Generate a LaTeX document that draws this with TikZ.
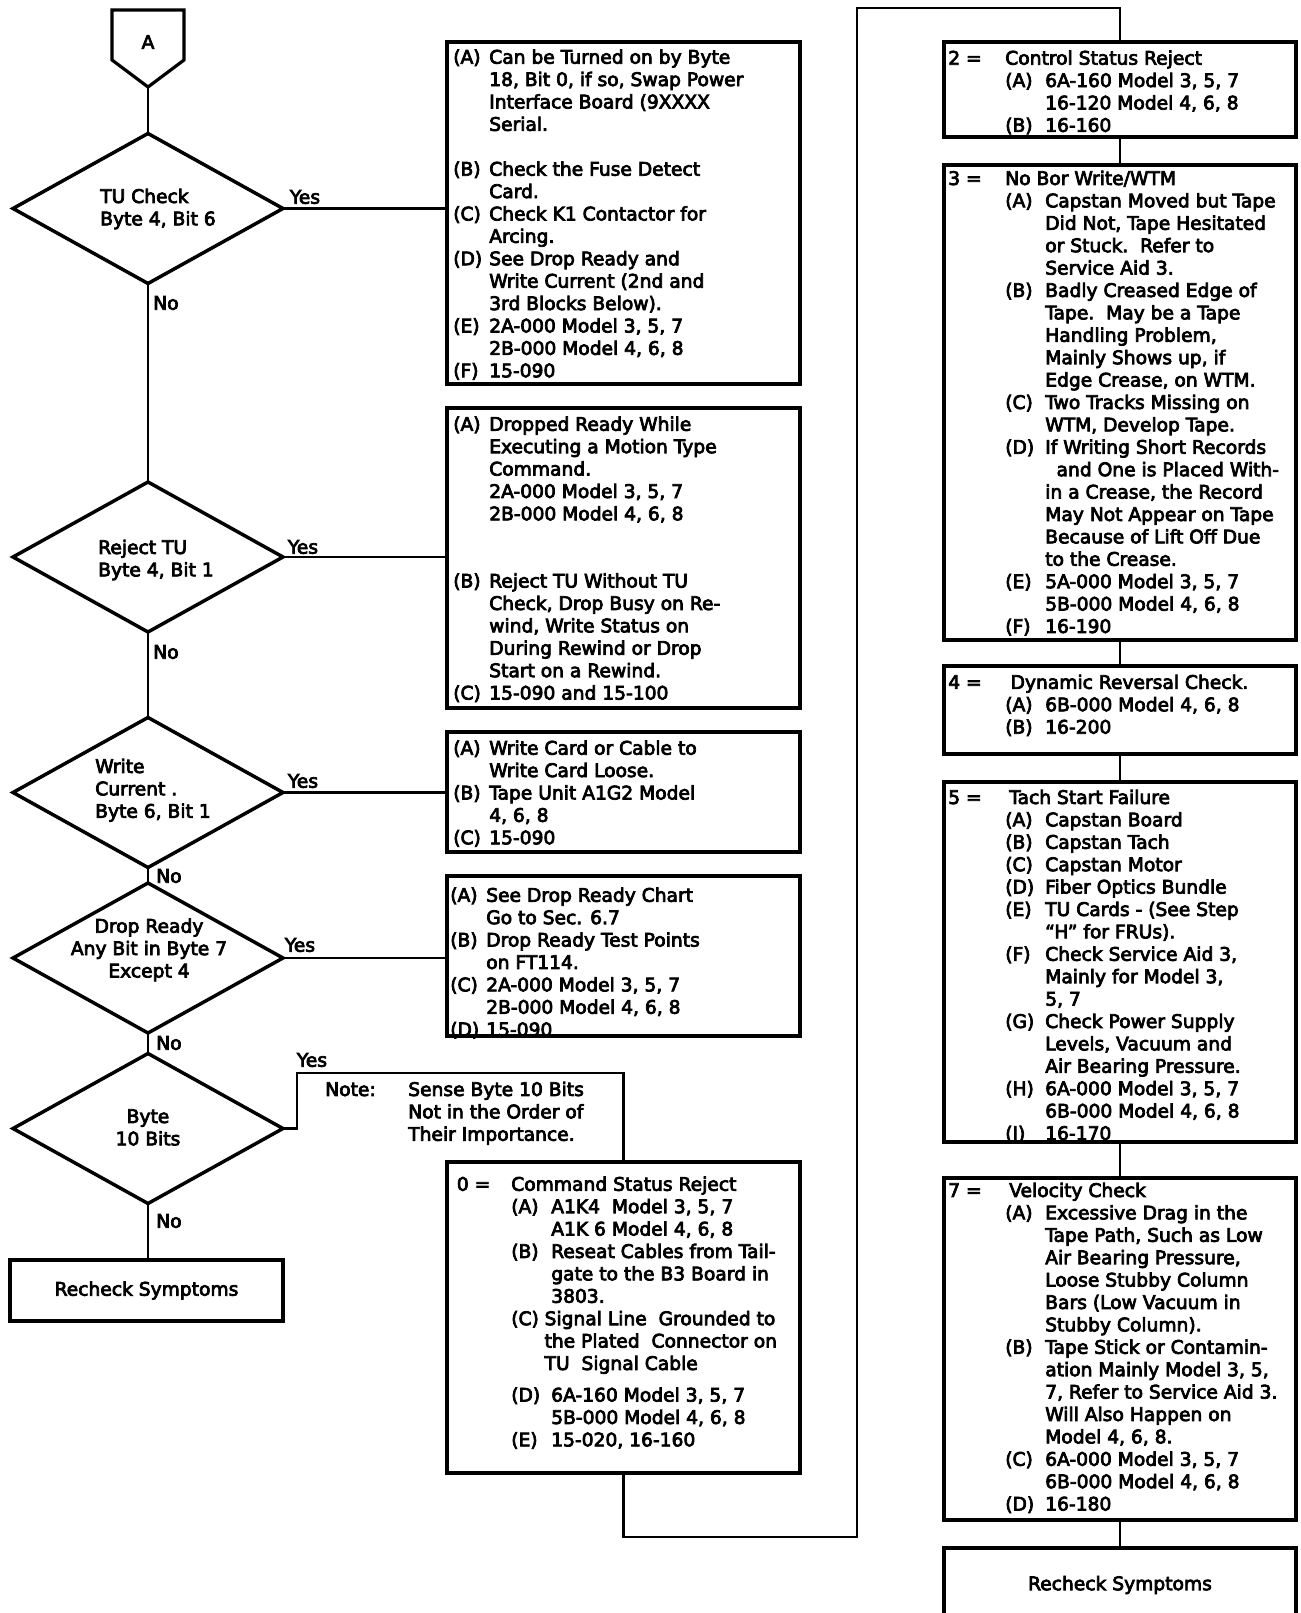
\documentclass[tikz,border=0pt]{standalone}
\usepackage{fontspec}
\usetikzlibrary{shapes.geometric}
\newfontfamily\df{DejaVu Sans}[FakeBold=4]
\newcommand\tf{\df\fontsize{14pt}{16.8pt}\selectfont}
\newcommand\La[1]{\makebox[27pt][l]{#1}}
\newcommand\Ia{\hspace*{27pt}}
\newcommand\Lb[1]{\makebox[30pt][l]{#1}}
\newcommand\Ib{\hspace*{30pt}}
\begin{document}
\begin{tikzpicture}[x=0.75pt,y=-0.75pt,
  conn/.style={line width=2.2pt},
  box/.style={draw, line width=2.4pt, rectangle, inner sep=0pt, outer sep=0pt, anchor=north west, font=\tf},
  dia/.style={draw, diamond, aspect=1.8, line width=2.6pt, inner sep=0pt, outer sep=0pt, minimum width=202.5pt, minimum height=112.5pt},
  txt/.style={anchor=north west, inner sep=0pt, align=left, font=\tf},
  ctxt/.style={anchor=north, inner sep=0pt, align=center, font=\tf},
  lab/.style={inner sep=0pt, font=\tf}]
\fill[white] (0,0) rectangle (1301,1613);
\useasboundingbox (0,0) rectangle (1301,1613);

% off-page connector A
\draw[line width=2.4pt, line join=miter] (112,10) -- (184,10) -- (184,60) -- (148,87) -- (112,60) -- cycle;
\coordinate (Atip) at (148,87);
\node[lab] (At) at (148,42) {A};

% decisions
\node[dia] (d1) at (148,208.5) {};
\node[dia] (d2) at (148,557) {};
\node[dia] (d3) at (148,792.5) {};
\node[dia] (d4) at (148,958) {};
\node[dia] (d5) at (148,1128.5) {};
\node[txt] (d1t) at (100,187) {\strut TU Check\\Byte 4, Bit 6};
\node[txt] (d2t) at (98,538) {\strut Reject TU\\Byte 4, Bit 1};
\node[txt] (d3t) at (95,757) {\strut Write\\Current .\\Byte 6, Bit 1};
\node[ctxt] (d4t) at (149,916.7) {\strut Drop Ready\\Any Bit in Byte 7\\Except 4};
\node[ctxt] (d5t) at (148,1107) {\strut Byte\\10 Bits};
\node[box, minimum width=204.75pt, minimum height=45.75pt] (rl) at (10,1260) {Recheck Symptoms};

% left column boxes
\node[box, minimum width=264.75pt, minimum height=256.5pt] (b1) at (447,42) {};
\node[box, minimum width=264.75pt, minimum height=225pt] (b2) at (447,408) {};
\node[box, minimum width=264.75pt, minimum height=90pt] (b3) at (447,732) {};
\node[box, minimum width=264.75pt, minimum height=120pt] (b4) at (447,876) {};
\node[box, minimum width=264.75pt, minimum height=233.25pt] (b0) at (447,1162) {};

% right column boxes
\node[box, minimum width=264pt, minimum height=71.25pt] (r2) at (944,42) {};
\node[box, minimum width=264pt, minimum height=356.25pt] (r3) at (944,165) {};
\node[box, minimum width=264pt, minimum height=66pt] (r4) at (944,666) {};
\node[box, minimum width=264pt, minimum height=270pt] (r5) at (944,782) {};
\node[box, minimum width=264pt, minimum height=256.5pt] (r7) at (944,1178) {};
\node[box, minimum width=264pt, minimum height=55.5pt] (r8) at (944,1548) {Recheck Symptoms};

% texts of left boxes
\node[txt] (t1) at (453,47.7) {\strut\La{(A)}Can be Turned on by Byte\\
\Ia 18, Bit 0, if so, Swap Power\\
\Ia Interface Board (9XXXX\\
\Ia Serial.\\
\strut\\
\La{(B)}Check the Fuse Detect\\
\Ia Card.\\
\La{(C)}Check K1 Contactor for\\
\Ia Arcing.\\
\La{(D)}See Drop Ready and\\
\Ia Write Current (2nd and\\
\Ia 3rd Blocks Below).\\
\La{(E)}2A-000 Model 3, 5, 7\\
\Ia 2B-000 Model 4, 6, 8\\
\La{(F)}15-090};

\node[txt] (t2) at (453,414.8) {\strut\La{(A)}Dropped Ready While\\
\Ia Executing a Motion Type\\
\Ia Command.\\
\Ia 2A-000 Model 3, 5, 7\\
\Ia 2B-000 Model 4, 6, 8\\
\strut\\
\strut\\
\La{(B)}Reject TU Without TU\\
\Ia Check, Drop Busy on Re-\\
\Ia wind, Write Status on\\
\Ia During Rewind or Drop\\
\Ia Start on a Rewind.\\
\La{(C)}15-090 and 15-100};

\node[txt] (t3) at (453,738.7) {\strut\La{(A)}Write Card or Cable to\\
\Ia Write Card Loose.\\
\La{(B)}Tape Unit A1G2 Model\\
\Ia 4, 6, 8\\
\La{(C)}15-090};

\node[txt] (t4) at (450,885.8) {\strut\La{(A)}See Drop Ready Chart\\
\Ia Go to Sec. 6.7\\
\La{(B)}Drop Ready Test Points\\
\Ia on FT114.\\
\La{(C)}2A-000 Model 3, 5, 7\\
\Ia 2B-000 Model 4, 6, 8\\
\La{(D)}15-090};

\node[txt] (nt1) at (325,1080) {\strut Note:};
\node[txt] (nt2) at (408,1080) {\strut Sense Byte 10 Bits\\Not in the Order of\\Their Importance.};

\node[txt] (t0h) at (456.6,1174.8) {\strut 0 =};
\node[txt] (t0) at (511,1174.8) {\strut Command Status Reject\\
\Lb{(A)}A1K4\ \ Model 3, 5, 7\\
\Ib A1K 6 Model 4, 6, 8\\
\Lb{(B)}Reseat Cables from Tail-\\
\Ib gate to the B3 Board in\\
\Ib 3803.\\
\makebox[25pt][l]{(C)}Signal Line\ \ Grounded to\\
\hspace*{25pt}the Plated\ \ Connector on\\
\hspace*{25pt}TU\ \ Signal Cable};
\node[txt] (t0b) at (511,1385.6) {\strut\Lb{(D)}6A-160 Model 3, 5, 7\\
\Ib 5B-000 Model 4, 6, 8\\
\Lb{(E)}15-020, 16-160};

% texts of right boxes
\node[txt] (s2h) at (948,48.7) {\strut 2 =};
\node[txt] (s2) at (1005,48.7) {\strut Control Status Reject\\
\Lb{(A)}6A-160 Model 3, 5, 7\\
\Ib 16-120 Model 4, 6, 8\\
\Lb{(B)}16-160};

\node[txt] (s3h) at (948,169) {\strut 3 =};
\node[txt] (s3) at (1005,169) {\strut No Bor Write/WTM\\
\Lb{(A)}Capstan Moved but Tape\\
\Ib Did Not, Tape Hesitated\\
\Ib or Stuck.\ \ Refer to\\
\Ib Service Aid 3.\\
\Lb{(B)}Badly Creased Edge of\\
\Ib Tape.\ \ May be a Tape\\
\Ib Handling Problem,\\
\Ib Mainly Shows up, if\\
\Ib Edge Crease, on WTM.\\
\Lb{(C)}Two Tracks Missing on\\
\Ib WTM, Develop Tape.\\
\Lb{(D)}If Writing Short Records\\
\hspace*{38.5pt}and One is Placed With-\\
\Ib in a Crease, the Record\\
\Ib May Not Appear on Tape\\
\Ib Because of Lift Off Due\\
\Ib to the Crease.\\
\Lb{(E)}5A-000 Model 3, 5, 7\\
\Ib 5B-000 Model 4, 6, 8\\
\Lb{(F)}16-190};

\node[txt] (s4h) at (948,672.9) {\strut 4 =};
\node[txt] (s4) at (1005,672.9) {\strut\hspace*{4pt}Dynamic Reversal Check.\\
\Lb{(A)}6B-000 Model 4, 6, 8\\
\Lb{(B)}16-200};

\node[txt] (s5h) at (948,788) {\strut 5 =};
\node[txt] (s5) at (1005,788) {\strut\hspace*{3pt}Tach Start Failure\\
\Lb{(A)}Capstan Board\\
\Lb{(B)}Capstan Tach\\
\Lb{(C)}Capstan Motor\\
\Lb{(D)}Fiber Optics Bundle\\
\Lb{(E)}TU Cards - (See Step\\
\Ib “H” for FRUs).\\
\Lb{(F)}Check Service Aid 3,\\
\Ib Mainly for Model 3,\\
\Ib 5, 7\\
\Lb{(G)}Check Power Supply\\
\Ib Levels, Vacuum and\\
\Ib Air Bearing Pressure.\\
\Lb{(H)}6A-000 Model 3, 5, 7\\
\Ib 6B-000 Model 4, 6, 8\\
\Lb{(I)}16-170};

\node[txt] (s7h) at (948,1181) {\strut 7 =};
\node[txt] (s7) at (1005,1181) {\strut\hspace*{3pt}Velocity Check\\
\Lb{(A)}Excessive Drag in the\\
\Ib Tape Path, Such as Low\\
\Ib Air Bearing Pressure,\\
\Ib Loose Stubby Column\\
\Ib Bars (Low Vacuum in\\
\Ib Stubby Column).\\
\Lb{(B)}Tape Stick or Contamin-\\
\Ib ation Mainly Model 3, 5,\\
\Ib 7, Refer to Service Aid 3.\\
\Ib Will Also Happen on\\
\Ib Model 4, 6, 8.\\
\Lb{(C)}6A-000 Model 3, 5, 7\\
\Ib 6B-000 Model 4, 6, 8\\
\Lb{(D)}16-180};

% connectors
\draw[conn] (Atip) -- (d1.north);
\draw[conn] (d1.east) -- (d1.east -| b1.west);
\draw[conn] (d1.south) -- (d2.north);
\draw[conn] (d2.east) -- (d2.east -| b2.west);
\draw[conn] (d2.south) -- (d3.north);
\draw[conn] (d3.east) -- (d3.east -| b3.west);
\draw[conn] (d3.south) -- (d4.north);
\draw[conn] (d4.east) -- (d4.east -| b4.west);
\draw[conn] (d4.south) -- (d5.north);
\draw[conn] (d5.south) -- (d5.south |- rl.north);
\coordinate (n1) at (297,1073);
\draw[conn] (d5.east) -- (d5.east -| n1) -- (n1) -| (b0.north);
\coordinate (m1) at (857,1537);
\coordinate (m2) at (857,8);
\draw[conn] (b0.south) |- (m1) -- (m2) -| (r2.north);
\draw[conn] (r2.south) -- (r3.north);
\draw[conn] (r3.south) -- (r4.north);
\draw[conn] (r4.south) -- (r5.north);
\draw[conn] (r5.south) -- (r7.north);
\draw[conn] (r7.south) -- (r8.north);

% branch labels
\node[lab] (y1) at (305,197) {Yes};
\node[lab] (y2) at (303,547) {Yes};
\node[lab] (y3) at (303,781) {Yes};
\node[lab] (y4) at (300,945) {Yes};
\node[lab] (y5) at (312,1060) {Yes};
\node[lab, anchor=west] (o1) at (153,303) {No};
\node[lab, anchor=west] (o2) at (153,652) {No};
\node[lab, anchor=west] (o3) at (156,876) {No};
\node[lab, anchor=west] (o4) at (156,1043) {No};
\node[lab, anchor=west] (o5) at (156,1221) {No};
\end{tikzpicture}
\end{document}
